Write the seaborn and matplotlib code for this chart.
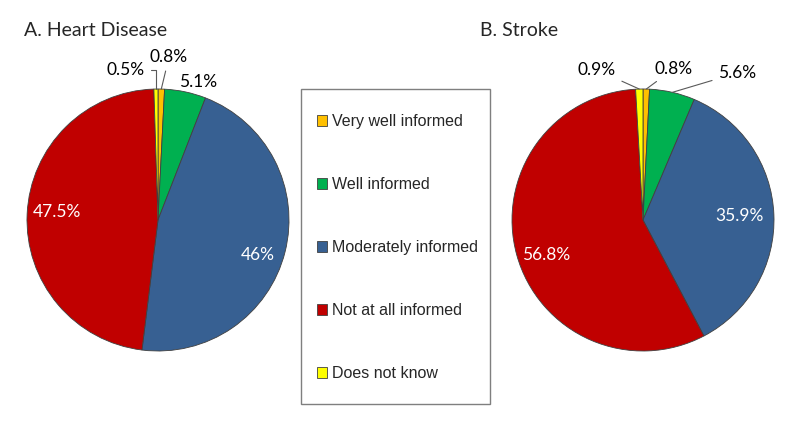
import matplotlib
matplotlib.use("Agg")
import matplotlib.pyplot as plt
from matplotlib.patches import Rectangle
import seaborn as sns
import numpy as np

# =========================================================
# DATA
# =========================================================
categories = [
    "Very well informed",
    "Well informed",
    "Moderately informed",
    "Not at all informed",
    "Does not know"
]

heart_values = [0.8, 5.1, 46.0, 47.5, 0.5]
stroke_values = [0.8, 5.6, 35.9, 56.8, 0.9]

heart_labels = ["0.8%", "5.1%", "46%", "47.5%", "0.5%"]
stroke_labels = ["0.8%", "5.6%", "35.9%", "56.8%", "0.9%"]

# =========================================================
# STYLE
# =========================================================
sns.set_style("white")
plt.rcParams["font.family"] = ["Lato", "DejaVu Sans"]

colors = sns.color_palette(
    ["#FFC000", "#00B050", "#376092", "#C00000", "#FFFF00"]
)

# label positions in pie units (radius = 1)
heart_pos = [(0.084, 1.244), (0.305, 1.053), (0.763, -0.267), (-0.771, 0.061), (-0.244, 1.145)]
heart_leader = [None, None, None, None, "angle,angleA=0,angleB=90,rad=0"]
heart_leader[0] = "arc3"
stroke_pos = [(0.237, 1.156), (0.718, 1.122), (0.733, 0.031), (-0.740, -0.267), (-0.351, 1.145)]
stroke_leader = ["arc3", "arc3", None, None, "arc3"]
inside = [False, False, True, True, False]

R_PX = 131
W, H = 800, 426


def pie_axes(fig, cx, cy):
    half = 1.25 * R_PX
    return fig.add_axes([
        (cx - half) / W,
        (H - cy - half) / H,
        2 * half / W,
        2 * half / H
    ])


def draw_pie(ax, values, labels, pos, leader):
    wedges, _ = ax.pie(
        values,
        colors=colors,
        startangle=90,
        counterclock=False,
        wedgeprops=dict(edgecolor="#404040", linewidth=0.6)
    )
    ax.set_xlim(-1.25, 1.25)
    ax.set_ylim(-1.25, 1.25)
    ax.set_aspect("equal")

    for i, w in enumerate(wedges):
        ang = np.deg2rad((w.theta1 + w.theta2) / 2)
        edge = (np.cos(ang), np.sin(ang))
        col = "white" if inside[i] else "black"
        if leader[i]:
            ax.annotate(
                labels[i],
                xy=edge,
                xytext=pos[i],
                ha="center",
                va="center",
                fontsize=12.5,
                color=col,
                arrowprops=dict(
                    arrowstyle="-",
                    color="#595959",
                    linewidth=0.8,
                    shrinkA=2,
                    shrinkB=0,
                    connectionstyle=leader[i]
                )
            )
        else:
            ax.text(
                pos[i][0],
                pos[i][1],
                labels[i],
                ha="center",
                va="center",
                fontsize=12.5,
                color=col
            )
    return wedges


fig = plt.figure(figsize=(8, 4.26), dpi=100)

ax1 = pie_axes(fig, 158, 220)
wedges = draw_pie(ax1, heart_values, heart_labels, heart_pos, heart_leader)

ax2 = pie_axes(fig, 643, 220)
draw_pie(ax2, stroke_values, stroke_labels, stroke_pos, stroke_leader)

fig.text(24 / W, 1 - 31 / H, "A. Heart Disease", fontsize=14, ha="left", va="center")
fig.text(480 / W, 1 - 31 / H, "B. Stroke", fontsize=14, ha="left", va="center")

# =========================================================
# LEGEND
# =========================================================
fig.add_artist(
    Rectangle(
        (301 / W, 1 - 404 / H),
        189 / W,
        315 / H,
        transform=fig.transFigure,
        facecolor="white",
        edgecolor="#7f7f7f",
        linewidth=1.0
    )
)

leg = fig.legend(
    wedges,
    categories,
    loc="center left",
    bbox_to_anchor=(317 / W, 1 - 247.5 / H),
    prop={"family": "Liberation Sans", "size": 11.5},
    frameon=False,
    borderpad=0,
    labelspacing=3.0,
    handlelength=0.65,
    handleheight=0.65,
    handletextpad=0.3,
    borderaxespad=0
)

fig.savefig("out.png", dpi=100)
